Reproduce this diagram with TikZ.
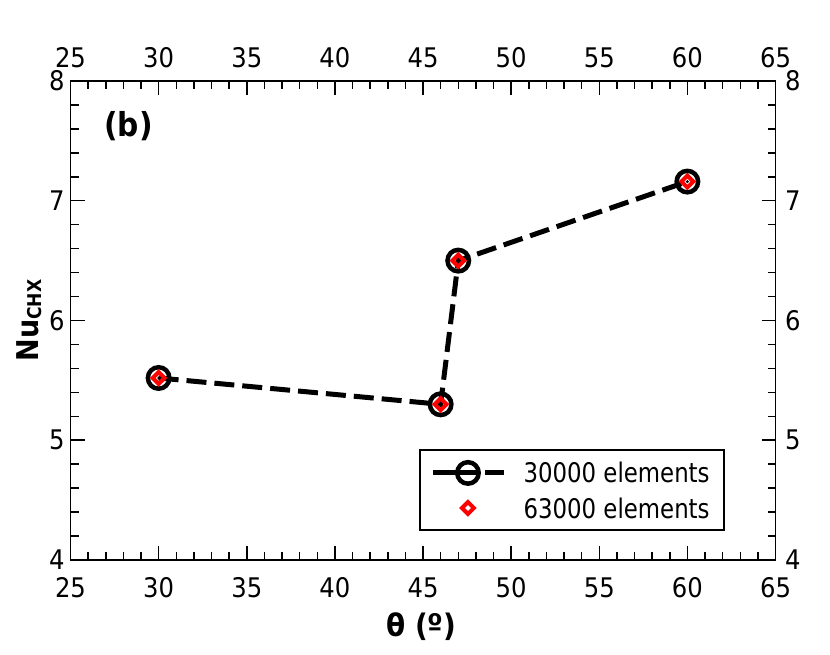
\documentclass[tikz,border=0pt]{standalone}
\usepackage{fontspec}
\setmainfont{DejaVu Sans Condensed}
\newfontfamily\legendfont[FakeStretch=0.94]{DejaVu Sans Condensed}
\usetikzlibrary{shapes.geometric}

\begin{document}
\begin{tikzpicture}[x=17.625pt,y=119.75pt,
    ticklabel/.style={inner sep=0pt,font=\fontsize{27}{27}\selectfont},
    ringmark/.style={circle,draw=black,line width=4.5pt,minimum size=21.5pt,inner sep=0pt},
    diamark/.style={diamond,draw=red,line width=4pt,minimum size=13.5pt,inner sep=0pt}]
      \useasboundingbox (21,3.2067) rectangle (68.092,8.6764);

      % Draw the frame and the ticks
      \draw[line width=1.8pt] (25,4) rectangle (65,8);
      \foreach \x in {26,...,64} {
        \draw[line width=1.5pt] (\x,4) -- ++(0,8pt);
        \draw[line width=1.5pt] (\x,8) -- ++(0,-8pt);
      }
      \foreach \x in {30,35,...,60} {
        \draw[line width=1.5pt] (\x,4) -- ++(0,14pt);
        \draw[line width=1.5pt] (\x,8) -- ++(0,-14pt);
      }
      \foreach \i in {1,...,19} {
        \pgfmathsetmacro{\y}{4+0.2*\i}
        \draw[line width=1.5pt] (25,\y) -- ++(8pt,0);
        \draw[line width=1.5pt] (65,\y) -- ++(-8pt,0);
      }
      \foreach \y in {5,6,7} {
        \draw[line width=1.5pt] (25,\y) -- ++(14pt,0);
        \draw[line width=1.5pt] (65,\y) -- ++(-14pt,0);
      }

      % Tick labels
      \foreach \x in {25,30,...,65} {
        \node[ticklabel] (xb\x) at (\x,3.766) {\x};
        \node[ticklabel] (xt\x) at (\x,8.192) {\x};
      }
      \foreach \y in {4,...,8} {
        \node[ticklabel] (yl\y) at (24.22,\y) {\y};
        \node[ticklabel] (yr\y) at (65.99,\y) {\y};
      }

      % Axis titles and panel label
      \node[inner sep=0pt,font=\bfseries\fontsize{31}{31}\selectfont] (xlabel) at (44.9,3.44) {θ (º)};
      \node[inner sep=0pt,rotate=90,font=\bfseries\fontsize{30}{30}\selectfont] (ylabel) at (22.64,6.0)
        {Nu\raisebox{-3pt}{\fontsize{19}{19}\selectfont CHX}};
      \node[inner sep=0pt,font=\bfseries\fontsize{33}{33}\selectfont] (panel) at (28.29,7.624) {(b)};

      % Data points
      \coordinate (p1) at (30,5.52);
      \coordinate (p2) at (46,5.30);
      \coordinate (p3) at (47,6.50);
      \coordinate (p4) at (60,7.16);
      \draw[line width=5pt, dash pattern=on 20pt off 8pt] (p1) -- (p2) -- (p3) -- (p4);
      \foreach \i in {1,...,4} {
        \node[ringmark] (c\i) at (p\i) {};
        \node[diamark] (d\i) at (p\i) {};
        \fill (p\i) circle (1.6pt);
      }

      % Legend
      \draw[line width=1.5pt] (44.83,4.25) rectangle (62.08,4.919);
      \coordinate (la) at (45.57,4.727);
      \coordinate (lb) at (49.6,4.727);
      \draw[line width=5pt, dash pattern=on 44pt off 8pt] (la) -- (lb);
      \node[ringmark] (lc) at (47.55,4.727) {};
      \node[diamark] (ld) at (47.55,4.434) {};
      \node[ticklabel,anchor=west,font=\legendfont\fontsize{27}{27}\selectfont] (lt1) at (50.7,4.727) {30000 elements};
      \node[ticklabel,anchor=west,font=\legendfont\fontsize{27}{27}\selectfont] (lt2) at (50.7,4.434) {63000 elements};
\end{tikzpicture}
\end{document}
